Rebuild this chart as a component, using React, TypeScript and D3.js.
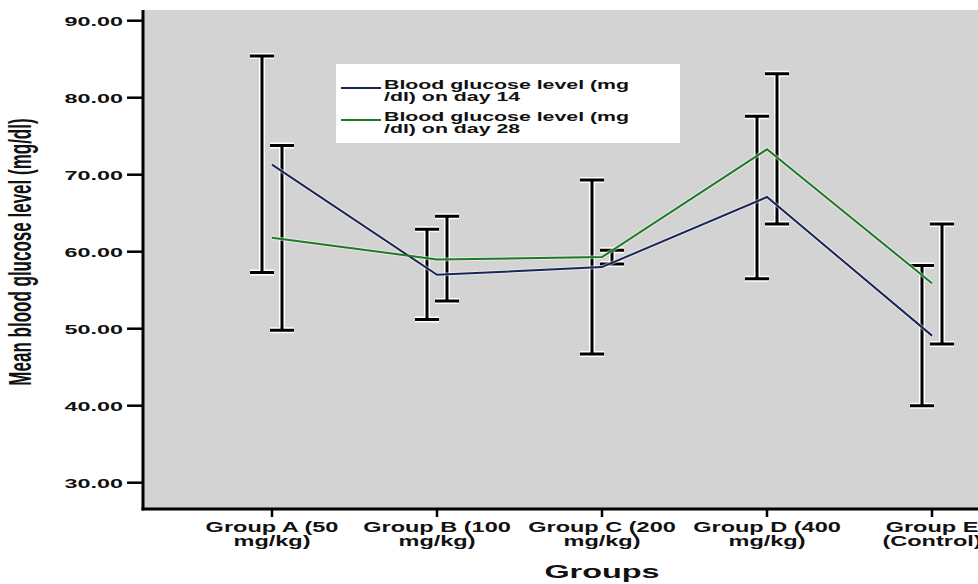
import React from "react";
import * as d3 from "d3";

const width = 978;
const height = 584;
const plot = { left: 143, top: 10, right: 980, bottom: 509 };

const groups = ["A", "B", "C", "D", "E"];
const groupLabels = [
  ["Group A (50", "mg/kg)"],
  ["Group B (100", "mg/kg)"],
  ["Group C (200", "mg/kg)"],
  ["Group D (400", "mg/kg)"],
  ["Group E", "(Control)"],
];

// day 14
const day14Mean = [71.3, 57.0, 58.0, 67.1, 49.1];
const day14Lo = [57.3, 51.2, 46.7, 56.5, 40.0];
const day14Hi = [85.4, 62.9, 69.3, 77.6, 58.2];
// day 28
const day28Mean = [61.8, 59.0, 59.3, 73.3, 55.9];
const day28Lo = [49.8, 53.6, 58.4, 63.6, 48.0];
const day28Hi = [73.8, 64.6, 60.2, 83.1, 63.6];

const yTicks = [30, 40, 50, 60, 70, 80, 90];
const legendLabels = [
  ["Blood glucose level (mg", "/dl) on day 14"],
  ["Blood glucose level (mg", "/dl) on day 28"],
];

const navy = "#1b2556";
const green = "#1e7a24";
const font = "'Liberation Sans', Arial, sans-serif";

const x = d3.scalePoint().domain(groups).range([272, 932]);
const y = d3.scaleLinear().domain([30, 90]).range([482.7, 20.7]);
const fmt = d3.format(".2f");

// stretched text, the source picture is wider than tall
const SText = ({ x, y, sx = 1.7, size = 14, anchor = "middle", weight = "bold", children }) => (
  <g transform={`translate(${x},${y}) scale(${sx},1)`}>
    <text textAnchor={anchor} fontSize={size} fontWeight={weight} fontFamily={font} fill="#111">
      {children}
    </text>
  </g>
);

const ErrorBar = ({ cx, lo, hi }) => {
  const cap = 12;
  const path = `M${cx},${y(hi)}V${y(lo)}M${cx - cap},${y(hi)}H${cx + cap}M${cx - cap},${y(lo)}H${cx + cap}`;
  return (
    <g>
      <path d={path} stroke="#fff" strokeWidth={6} fill="none" />
      <path d={path} stroke="#000" strokeWidth={3} fill="none" />
    </g>
  );
};

export default function App() {
  const line = d3
    .line<number>()
    .x((_, i) => x(groups[i]))
    .y(d => y(d));

  return (
    <svg width={width} height={height} style={{ position: "absolute", left: 0, top: 0 }}>
      <rect x={0} y={0} width={width} height={height} fill="#fff" />
      <rect x={plot.left} y={plot.top} width={plot.right - plot.left} height={plot.bottom - plot.top} fill="#d3d3d3" />

      {groups.map((g, i) => (
        <g key={g}>
          <ErrorBar cx={x(g) - 10} lo={day14Lo[i]} hi={day14Hi[i]} />
          <ErrorBar cx={x(g) + 10} lo={day28Lo[i]} hi={day28Hi[i]} />
        </g>
      ))}

      <path d={line(day14Mean)} stroke="#fff" strokeOpacity={0.5} strokeWidth={4} fill="none" />
      <path d={line(day28Mean)} stroke="#fff" strokeOpacity={0.5} strokeWidth={4} fill="none" />
      <path d={line(day14Mean)} stroke={navy} strokeWidth={2} fill="none" />
      <path d={line(day28Mean)} stroke={green} strokeWidth={2} fill="none" />

      {/* legend */}
      <rect x={336} y={64} width={344} height={79} fill="#fff" />
      {[navy, green].map((c, i) => (
        <g key={c}>
          <line x1={341} x2={381} y1={88 + i * 32} y2={88 + i * 32} stroke={c} strokeWidth={2} />
          <SText x={384} y={89 + i * 32} anchor="start" sx={1.58} size={13.5}>{legendLabels[i][0]}</SText>
          <SText x={384} y={101 + i * 32} anchor="start" sx={1.58} size={13.5}>{legendLabels[i][1]}</SText>
        </g>
      ))}

      {/* y axis */}
      <line x1={plot.left} x2={plot.left} y1={plot.top} y2={plot.bottom + 1.5} stroke="#000" strokeWidth={3} />
      {yTicks.map(t => (
        <g key={t}>
          <line x1={127} x2={plot.left} y1={y(t)} y2={y(t)} stroke="#000" strokeWidth={2.5} />
          <SText x={123} y={y(t) + 5} anchor="end" sx={1.8} size={13}>{fmt(t)}</SText>
        </g>
      ))}
      <g transform="translate(31,252) rotate(-90) scale(1,1.8)">
        <text textAnchor="middle" fontSize={17} fontWeight="bold" fontFamily={font} fill="#111">
          Mean blood glucose level (mg/dl)
        </text>
      </g>

      {/* x axis */}
      <line x1={plot.left - 1.5} x2={plot.right} y1={plot.bottom} y2={plot.bottom} stroke="#000" strokeWidth={3} />
      {groups.map((g, i) => (
        <g key={g}>
          <line x1={x(g)} x2={x(g)} y1={plot.bottom} y2={plot.bottom + 8} stroke="#000" strokeWidth={2.5} />
          <SText x={x(g)} y={532} sx={1.68} size={14}>{groupLabels[i][0]}</SText>
          <SText x={x(g)} y={546} sx={1.68} size={14}>{groupLabels[i][1]}</SText>
        </g>
      ))}
      <SText x={x("C")} y={578} sx={1.8} size={18}>Groups</SText>
    </svg>
  );
}
